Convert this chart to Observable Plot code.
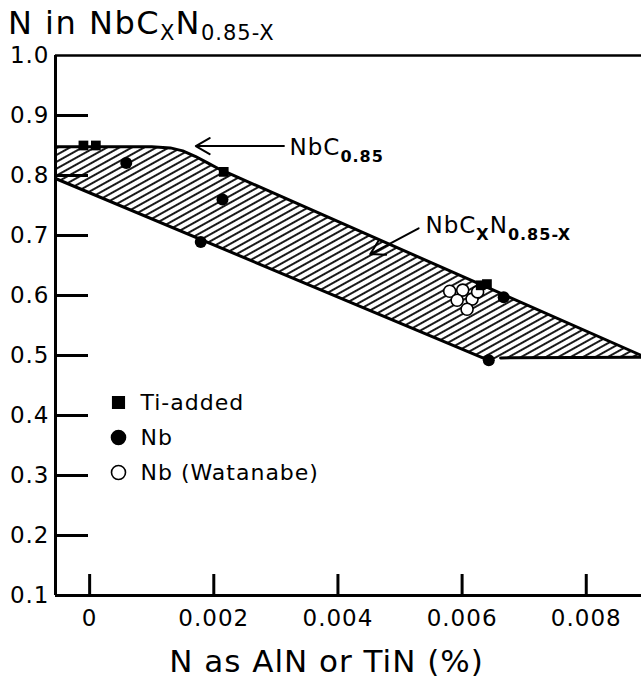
<!DOCTYPE html>
<html>
<head>
<meta charset="utf-8">
<script src="https://cdn.jsdelivr.net/npm/d3@7"></script>
<script src="https://cdn.jsdelivr.net/npm/@observablehq/plot@0.6"></script>
<style>
  body { margin: 0; background: #fff; }
  #title {
    height: 38px; padding-left: 8px; white-space: nowrap; overflow: visible;
    font-family: "DejaVu Sans", sans-serif; font-size: 32px; line-height: 46px;
    letter-spacing: 1.5px; color: #000;
  }
  #title sub { font-size: 21px; vertical-align: -6px; line-height: 0; letter-spacing: 1px; }
  #chart svg { display: block; }
</style>
</head>
<body>
<div id="title">N in NbC<sub>X</sub>N<sub>0.85-X</sub></div>
<div id="chart"></div>
<script>
// Axis ticks
const yTicks = [0.1, 0.2, 0.3, 0.4, 0.5, 0.6, 0.7, 0.8, 0.9, 1.0];
const xTicks = [0, 0.002, 0.004, 0.006, 0.008];
const xTickLabels = ["0", "0.002", "0.004", "0.006", "0.008"];

// Upper edge of the NbCxN(0.85-x) band (flat at NbC0.85, then falling)
const upperX = [-0.00055, 0.0010, 0.0013, 0.0015, 0.0017, 0.0019, 0.0021, 0.0023, 0.00889];
const upperY = [0.848, 0.848, 0.846, 0.841, 0.832, 0.821, 0.810, 0.801, 0.500];
// Lower edge of the band
const lowerX = [-0.00055, 0.00643];
const lowerY = [0.795, 0.492];
// Horizontal floor at the right end of the band
const floorX = [0.00662, 0.00889];
const floorY = [0.496, 0.497];

// Measured points
const tiX = [-0.0001, 0.0001, 0.00216, 0.0063, 0.0064];
const tiY = [0.850, 0.850, 0.806, 0.617, 0.619];
const nbX = [0.00059, 0.00214, 0.00179, 0.00667, 0.00643];
const nbY = [0.821, 0.760, 0.689, 0.597, 0.492];
const watX = [0.00580, 0.00601, 0.00592, 0.00616, 0.00608, 0.00625];
const watY = [0.607, 0.609, 0.592, 0.594, 0.577, 0.606];

// Callout labels and their arrows
const calloutText = ["NbC_{0.85}", "NbC_{X}N_{0.85-X}"];
const calloutX = [0.00322, 0.00541];
const calloutY = [0.846, 0.717];
const arrowX1 = [0.00313, 0.00530];
const arrowY1 = [0.849, 0.712];
const arrowX2 = [0.00171, 0.00452];
const arrowY2 = [0.849, 0.669];

// Legend entries
const legendLabels = ["Ti-added", "Nb", "Nb (Watanabe)"];
const legendSymbols = ["square", "circle", "circle"];
const legendFills = ["black", "black", "white"];

const xDomain = [-0.00055, 0.00889];
const yDomain = [0.1, 1.0];
const W = 641, H = 645;
const mL = 55, mR = 0, mT = 17, mB = 88;

// tick lengths in data units, from pixel lengths
const yTickLen = 33 * (xDomain[1] - xDomain[0]) / (W - mL - mR);
const xTickLen = 21 * (yDomain[1] - yDomain[0]) / (H - mT - mB);

const pts = (xs, ys) => xs.map((x, i) => ({x, y: ys[i]}));
const upper = pts(upperX, upperY);
const lower = pts(lowerX, lowerY);
const floor = pts(floorX, floorY);
const band = [
  ...upper,
  ...floor.slice().reverse(),
  ...lower.slice().reverse()
];
const callouts = calloutText.map((t, i) => ({
  t, x: calloutX[i], y: calloutY[i],
  x1: arrowX1[i], y1: arrowY1[i], x2: arrowX2[i], y2: arrowY2[i]
}));

const legendMarks = legendLabels.flatMap((label, i) => [
  Plot.dot([label], {
    frameAnchor: "top-left", dx: 63, dy: 347 + i * 35,
    symbol: legendSymbols[i], r: legendSymbols[i] === "square" ? 6.5 : 7,
    fill: legendFills[i], stroke: "black", strokeWidth: 1.6
  }),
  Plot.text([label], {
    frameAnchor: "top-left", dx: 85, dy: 347 + i * 35,
    text: d => d, textAnchor: "start", lineAnchor: "middle", fontSize: 22
  })
]);

const chart = Plot.plot({
  width: W, height: H,
  marginLeft: mL, marginRight: mR, marginTop: mT, marginBottom: mB,
  x: {domain: xDomain, axis: null},
  y: {domain: yDomain, axis: null},
  style: {fontFamily: "DejaVu Sans, sans-serif", fontSize: "22px", color: "black", background: "transparent"},
  marks: [
    // hatched band
    Plot.line(band, {x: "x", y: "y", fill: "url(#hatch)", stroke: "none"}),
    Plot.line(upper, {x: "x", y: "y", stroke: "black", strokeWidth: 3}),
    Plot.line(lower, {x: "x", y: "y", stroke: "black", strokeWidth: 3}),
    Plot.line(floor, {x: "x", y: "y", stroke: "black", strokeWidth: 3}),

    // frame: top, left and bottom lines
    Plot.ruleY([yDomain[1]], {stroke: "black", strokeWidth: 2.5}),
    Plot.ruleY([yDomain[0]], {stroke: "black", strokeWidth: 3}),
    Plot.ruleX([xDomain[0]], {stroke: "black", strokeWidth: 3}),

    // inward ticks
    Plot.ruleY(yTicks.slice(1, -1), {x1: xDomain[0], x2: xDomain[0] + yTickLen, stroke: "black", strokeWidth: 3}),
    Plot.ruleX(xTicks, {y1: yDomain[0], y2: yDomain[0] + xTickLen, stroke: "black", strokeWidth: 3}),

    // tick labels
    Plot.text(yTicks, {x: xDomain[0], y: d => d, text: d => d.toFixed(1), textAnchor: "end", dx: -6, fontSize: 23}),
    Plot.text(xTicks, {x: d => d, y: yDomain[0], text: (d, i) => xTickLabels[i], dy: 23, lineAnchor: "middle", fontSize: 23}),
    Plot.text(["N as AlN or TiN (%)"], {frameAnchor: "bottom", text: d => d, dx: -22, dy: 67, lineAnchor: "middle", fontSize: 31}),

    // data points
    Plot.dot(pts(watX, watY), {x: "x", y: "y", r: 6, fill: "white", stroke: "black", strokeWidth: 1.6}),
    Plot.dot(pts(tiX, tiY), {x: "x", y: "y", symbol: "square", r: 5.5, fill: "black"}),
    Plot.dot(pts(nbX, nbY), {x: "x", y: "y", r: 6, fill: "black"}),

    // callouts
    Plot.arrow(callouts, {x1: "x1", y1: "y1", x2: "x2", y2: "y2", stroke: "black", strokeWidth: 2, headLength: 12, bend: 0}),
    Plot.text(callouts, {x: "x", y: "y", text: "t", textAnchor: "start", lineAnchor: "middle", fontSize: 23}),

    ...legendMarks
  ]
});

// hatch pattern for the band
const ns = "http://www.w3.org/2000/svg";
const defs = document.createElementNS(ns, "defs");
defs.innerHTML = `<pattern id="hatch" patternUnits="userSpaceOnUse" width="20" height="6" patternTransform="rotate(-29)">
  <line x1="0" y1="3" x2="20" y2="3" stroke="black" stroke-width="1.8"/>
</pattern>`;
chart.insertBefore(defs, chart.firstChild);
chart.style.letterSpacing = "1px";
chart.style.overflow = "visible";

// turn _{...} into subscript tspans
chart.querySelectorAll("text").forEach(t => {
  const s = t.textContent;
  if (!s.includes("_{")) return;
  t.textContent = "";
  let shifted = false;
  for (const p of s.split(/(_\{[^}]*\})/)) {
    if (!p) continue;
    const ts = document.createElementNS(ns, "tspan");
    if (p.startsWith("_{")) {
      ts.textContent = p.slice(2, -1);
      ts.setAttribute("font-size", "16");
      ts.setAttribute("font-weight", "bold");
      if (!shifted) ts.setAttribute("dy", "7");
      shifted = true;
    } else {
      ts.textContent = p;
      if (shifted) ts.setAttribute("dy", "-7");
      shifted = false;
    }
    t.appendChild(ts);
  }
});

document.getElementById("chart").appendChild(chart);
</script>
</body>
</html>
